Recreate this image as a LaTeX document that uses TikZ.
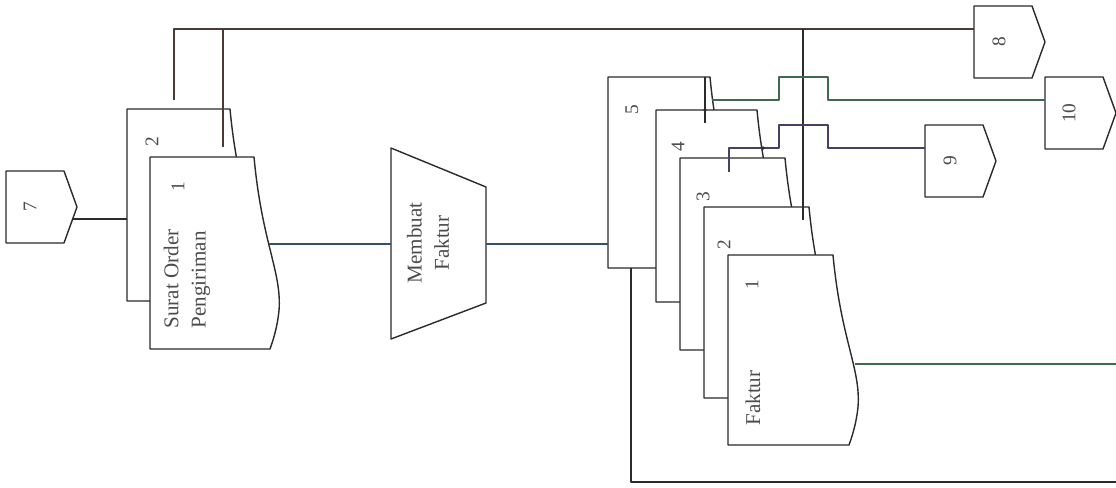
\documentclass[tikz,border=0pt]{standalone}
\usepackage{fontspec}
\setmainfont{Liberation Serif}
\newcommand\docpath[4]{(#1,#2) -- (#3,#2) .. controls ({#3+8},{#2+0.45*(#4-#2)}) and ({#3+28},{#2+0.6*(#4-#2)}) .. ({#3+25},{#2+0.8*(#4-#2)}) .. controls ({#3+23},{#2+0.9*(#4-#2)}) and ({#3+18},{#2+0.97*(#4-#2)}) .. ({#3+16},#4) -- (#1,#4) -- cycle}
\newcommand\offpg[2]{(#1,#2) -- ({#1+58},#2) -- ({#1+71},{#2+36}) -- ({#1+58},{#2+72}) -- (#1,{#2+72}) -- cycle}
\definecolor{ink}{HTML}{2B2B2B}
\definecolor{blueink}{HTML}{34506B}
\definecolor{greenink}{HTML}{3F6A50}
\definecolor{purpink}{HTML}{4A3F63}
\definecolor{brownink}{HTML}{4A3A38}
\begin{document}
\begin{tikzpicture}[x=0.02cm,y=-0.02cm,line join=round]
\useasboundingbox[fill=white] (0,0) rectangle (1116,487);
\tikzset{
  shp/.style={draw=ink,line width=0.8pt,fill=white},
  wire/.style={draw=#1,line width=0.7pt},
  wire/.default=ink,
  lbl/.style={font=\fontsize{12}{15.5}\selectfont,rotate=90,text=ink!85,align=left,inner sep=0pt},
  num/.style={font=\fontsize{11}{13}\selectfont,rotate=90,text=ink!85,inner sep=0pt},
  jdot/.style={fill=ink}
}
% ---- Surat Order Pengiriman (2 copies)
\path[shp] \docpath{127}{109}{230}{301};
\path[shp] \docpath{150}{157}{254}{349};
\node[lbl] (sop) at (187,279) {Surat Order\\Pengiriman};
\node[num] (sn2) at (152,142) {2};
\node[num] (sn1) at (178,187) {1};
% ---- Membuat Faktur (manual operation)
\path[shp] (391,148) -- (486,187) -- (486,303) -- (391,339) -- cycle;
\node[lbl,align=center] (mf) at (428,243) {Membuat\\Faktur};
% ---- Faktur (5 copies)
\path[shp] \docpath{608}{77}{710}{268};
\path[shp] \docpath{656}{110}{757}{302};
\path[shp] \docpath{680}{158}{785}{350};
\path[shp] \docpath{704}{207}{809}{398};
\path[shp] \docpath{728}{255}{833}{445};
\node[num] (fn5) at (632,110) {5};
\node[num] (fn4) at (678,147) {4};
\node[num] (fn3) at (703,197) {3};
\node[num] (fn2) at (724,245) {2};
\node[num] (fn1) at (752,285) {1};
\node[lbl] (fk) at (753,398) {Faktur};
% ---- off-page connectors
\path[shp] \offpg{6}{171};
\node[num] (c7) at (30,207) {7};
\path[shp] \offpg{974}{6};
\node[num] (c8) at (999,42) {8};
\path[shp] \offpg{925}{125};
\node[num] (c9) at (950,161) {9};
\path[shp] \offpg{1045}{77};
\node[num] (c10) at (1069,113) {10};
% ---- connection points
\coordinate (c7out) at (73,219);
\coordinate (s2in) at (127,219);
\coordinate (s1out) at (269,244);
\coordinate (mfin) at (391,244);
\coordinate (mfout) at (486,244);
\coordinate (f5in) at (608,244);
\coordinate (s2a) at (174,100);
\coordinate (s2b) at (223,147);
\coordinate (c8in) at (974,29);
\coordinate (f2up) at (803,220);
\coordinate (f5a) at (705,77);
\coordinate (f5b) at (705,123);
\coordinate (f5out) at (712,100);
\coordinate (c10in) at (1045,100);
\coordinate (f3a) at (729,172);
\coordinate (c9in) at (925,148);
\coordinate (f1out) at (855,364);
\coordinate (rEdge1) at (1116,364);
\coordinate (f5bot) at (631,268);
\coordinate (rEdge2) at (1116,482);
% ---- connectors
\draw[wire] (c7out) -- (s2in);
\draw[wire=blueink] (s1out) -- (mfin);
\draw[wire=blueink] (mfout) -- (f5in);
\draw[wire=brownink] (s2a) |- (c8in);
\draw[wire=brownink] (s2b) -- (223,29);
\draw[wire] (f2up) -- (803,29);
\draw[wire] (f5a) -- (f5b);
\draw[wire=greenink] (f5out) -- (779,100) -- (779,77) -- (828,77) -- (828,100) -- (c10in);
\draw[wire=purpink] (f3a) -- (729,148) -- (779,148) -- (779,125) -- (828,125) -- (828,148) -- (c9in);
\draw[wire=greenink] (f1out) -- (rEdge1);
\draw[wire] (f5bot) -- (631,482) -- (rEdge2);
\fill[jdot] (705,110) circle (1.8);
\fill[jdot] (763,148) circle (1.8);
\end{tikzpicture}
\end{document}
